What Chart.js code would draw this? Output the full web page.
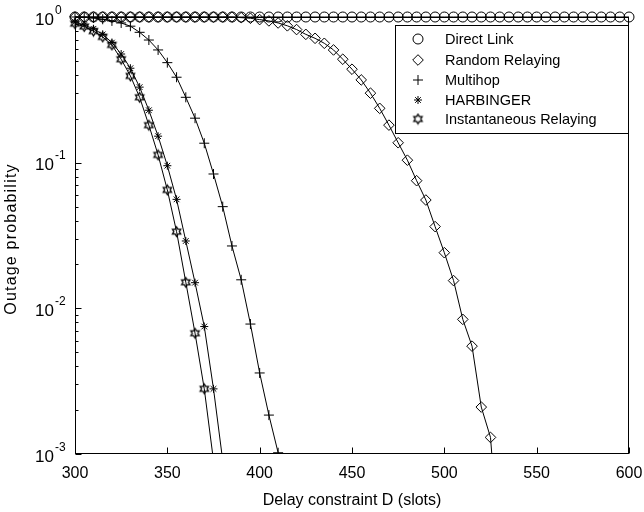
<!DOCTYPE html>
<html lang="en">
<head>
<meta charset="UTF-8">
<title>Outage probability vs delay constraint</title>
<script src="https://cdn.jsdelivr.net/npm/chart.js"></script>
<style>
  html, body { margin: 0; padding: 0; background: #fff; }
  #wrap { width: 644px; height: 512px; }
</style>
</head>
<body>
<div id="wrap"><canvas id="outageChart" width="644" height="512"></canvas></div>
<script>
// delay constraint D (slots), one entry per marker
const slots = [300, 305, 310, 315, 320, 325, 330, 335, 340, 345, 350, 355, 360, 365, 370, 375, 380, 385, 390, 395,
  400, 405, 410, 415, 420, 425, 430, 435, 440, 445, 450, 455, 460, 465, 470, 475, 480, 485, 490, 495,
  500, 505, 510, 515, 520, 525, 530, 535, 540, 545, 550, 555, 560, 565, 570, 575, 580, 585, 590, 595, 600];

// outage probability, index i belongs to slots[i] (a series stops where its array ends)
const directLink = [1, 1, 1, 1, 1, 1, 1, 1, 1, 1, 1, 1, 1, 1, 1, 1, 1, 1, 1, 1,
  1, 1, 1, 1, 1, 1, 1, 1, 1, 1, 1, 1, 1, 1, 1, 1, 1, 1, 1, 1,
  1, 1, 1, 1, 1, 1, 1, 1, 1, 1, 1, 1, 1, 1, 1, 1, 1, 1, 1, 1, 1];
const randomRelaying = [1, 1, 1, 1, 1, 1, 1, 1, 1, 1, 1, 1, 1, 1, 1, 1, 1, 1, 0.99, 0.98,
  0.96, 0.94, 0.91, 0.87, 0.82, 0.76, 0.714, 0.66, 0.594, 0.513, 0.438, 0.37, 0.30, 0.236, 0.181, 0.137, 0.104, 0.0752, 0.0554, 0.0364,
  0.0241, 0.0155, 0.0084, 0.0055, 0.0021, 0.0013, 0.0002];
const multihop = [1, 0.995, 0.985, 0.965, 0.94, 0.91, 0.865, 0.785, 0.695, 0.594, 0.486, 0.386, 0.281, 0.202, 0.136, 0.0836, 0.0499, 0.0268, 0.0157, 0.0078,
  0.0036, 0.00185, 0.00102, 0.0003];
const harbinger = [0.92, 0.88, 0.83, 0.76, 0.667, 0.557, 0.445, 0.33, 0.229, 0.152, 0.0953, 0.056, 0.029, 0.015, 0.0075, 0.0028, 0.0009];
const instantaneous = [0.9, 0.86, 0.8, 0.73, 0.643, 0.513, 0.394, 0.281, 0.181, 0.113, 0.065, 0.0336, 0.0151, 0.00675, 0.0028, 0.0009];

const xTicks = [300, 350, 400, 450, 500, 550, 600];
const yDecades = [1, 0.1, 0.01, 0.001];
const yExponents = ['0', '-1', '-2', '-3'];

const FONT = '"Liberation Sans", Arial, sans-serif';

// star of David marker, drawn once on a small canvas
function hexagram(R) {
  const c = document.createElement('canvas');
  const s = Math.ceil(R * 2 + 3);
  c.width = s; c.height = s;
  const g = c.getContext('2d');
  const cx = s / 2, cy = s / 2, r = R / Math.sqrt(3);
  g.strokeStyle = '#000';
  g.lineWidth = 1.3;
  g.beginPath();
  for (let k = 0; k < 12; k++) {
    const ang = -Math.PI / 2 + k * Math.PI / 6;
    const rr = k % 2 === 0 ? R : r;
    const px = cx + rr * Math.cos(ang), py = cy + rr * Math.sin(ang);
    if (k === 0) g.moveTo(px, py); else g.lineTo(px, py);
  }
  g.closePath();
  g.stroke();
  return c;
}
const starOfDavid = hexagram(4.8);

function toPoints(vals) {
  return vals.map((v, i) => ({ x: slots[i], y: v }));
}

function series(label, vals, style, radius) {
  return {
    label: label,
    data: toPoints(vals),
    borderColor: '#000',
    borderWidth: 1,
    pointStyle: style,
    pointRadius: radius,
    pointBorderColor: '#000',
    pointBackgroundColor: 'rgba(0,0,0,0)',
    pointBorderWidth: 1,
    tension: 0,
    clip: { left: false, top: false, right: false, bottom: 0 }
  };
}

// inward ticks, box, tick labels, axis titles
const axesPlugin = {
  id: 'matlabAxes',
  afterDatasetsDraw(chart) {
    const { ctx, chartArea: a, scales: { x, y } } = chart;
    ctx.save();
    ctx.strokeStyle = '#000';
    ctx.lineWidth = 1;
    ctx.strokeRect(Math.round(a.left) + 0.5, Math.round(a.top) + 0.5,
      Math.round(a.right - a.left) - 1, Math.round(a.bottom - a.top) - 1);
    const bottom = Math.round(a.bottom) - 0.5;
    const left = Math.round(a.left) + 0.5;

    ctx.beginPath();
    xTicks.forEach(v => {
      const px = Math.round(x.getPixelForValue(v)) + 0.5;
      ctx.moveTo(px, bottom);
      ctx.lineTo(px, bottom - 6);
    });
    yDecades.forEach(d => {
      const py = Math.round(y.getPixelForValue(d)) + 0.5;
      ctx.moveTo(left, py);
      ctx.lineTo(left + 6, py);
    });
    for (let i = 1; i < yDecades.length; i++) {
      const d = yDecades[i];
      for (let m = 2; m <= 9; m++) {
        const py = Math.round(y.getPixelForValue(d * m)) + 0.5;
        ctx.moveTo(left, py);
        ctx.lineTo(left + 3, py);
      }
    }
    ctx.stroke();

    ctx.fillStyle = '#000';
    ctx.font = '16px ' + FONT;
    ctx.textAlign = 'center';
    ctx.textBaseline = 'alphabetic';
    xTicks.forEach(v => {
      ctx.fillText(String(v), x.getPixelForValue(v), a.bottom + 24);
    });

    yDecades.forEach((d, i) => {
      const py = y.getPixelForValue(d);
      ctx.font = '17px ' + FONT;
      ctx.textAlign = 'right';
      ctx.fillText('10', 54, py + 7.5);
      ctx.font = '12px ' + FONT;
      ctx.textAlign = 'left';
      ctx.fillText(yExponents[i], 55, py - 3.5);
    });

    ctx.font = '16px ' + FONT;
    ctx.textAlign = 'center';
    ctx.fillText('Delay constraint D (slots)', (a.left + a.right) / 2, 505);

    ctx.translate(16, 239);
    ctx.rotate(-Math.PI / 2);
    ctx.letterSpacing = '1.2px';
    ctx.fillText('Outage probability', 0, 0);
    ctx.restore();
  }
};

// boxed legend in the upper right
const legendPlugin = {
  id: 'boxLegend',
  afterDatasetsDraw(chart) {
    const ctx = chart.ctx;
    const a = chart.chartArea;
    const box = { left: 395.5, top: 25.5, right: Math.round(a.right) - 0.5, bottom: 133.5 };
    ctx.save();
    ctx.fillStyle = '#fff';
    ctx.fillRect(box.left, box.top, box.right - box.left, box.bottom - box.top);
    ctx.strokeStyle = '#000';
    ctx.lineWidth = 1;
    ctx.strokeRect(box.left, box.top, box.right - box.left, box.bottom - box.top);
    const rows = [39, 60, 80, 100, 119];
    chart.data.datasets.forEach((ds, i) => {
      const yy = rows[i];
      ctx.strokeStyle = '#000';
      ctx.fillStyle = 'rgba(0,0,0,0)';
      ctx.lineWidth = 1;
      Chart.helpers.drawPoint(ctx, { pointStyle: ds.pointStyle, radius: ds.pointRadius, rotation: 0, borderWidth: 1 }, 418, yy);
      ctx.fillStyle = '#000';
      ctx.font = '14.5px ' + FONT;
      ctx.textAlign = 'left';
      ctx.textBaseline = 'middle';
      ctx.fillText(ds.label, 445, yy + 1);
    });
    ctx.restore();
  }
};

new Chart(document.getElementById('outageChart').getContext('2d'), {
  type: 'line',
  data: {
    datasets: [
      series('Direct Link', directLink, 'circle', 5),
      series('Random Relaying', randomRelaying, 'rectRot', 5.3),
      series('Multihop', multihop, 'cross', 5),
      series('HARBINGER', harbinger, 'star', 4),
      series('Instantaneous Relaying', instantaneous, starOfDavid, 5)
    ]
  },
  options: {
    responsive: false,
    animation: false,
    devicePixelRatio: 1,
    layout: { padding: { left: 75, right: 15, top: 17, bottom: 58 } },
    scales: {
      x: { type: 'linear', min: 300, max: 600, display: false },
      y: { type: 'logarithmic', min: 0.001, max: 1, display: false }
    },
    plugins: {
      legend: { display: false },
      tooltip: { enabled: false }
    }
  },
  plugins: [axesPlugin, legendPlugin]
});
</script>
</body>
</html>
